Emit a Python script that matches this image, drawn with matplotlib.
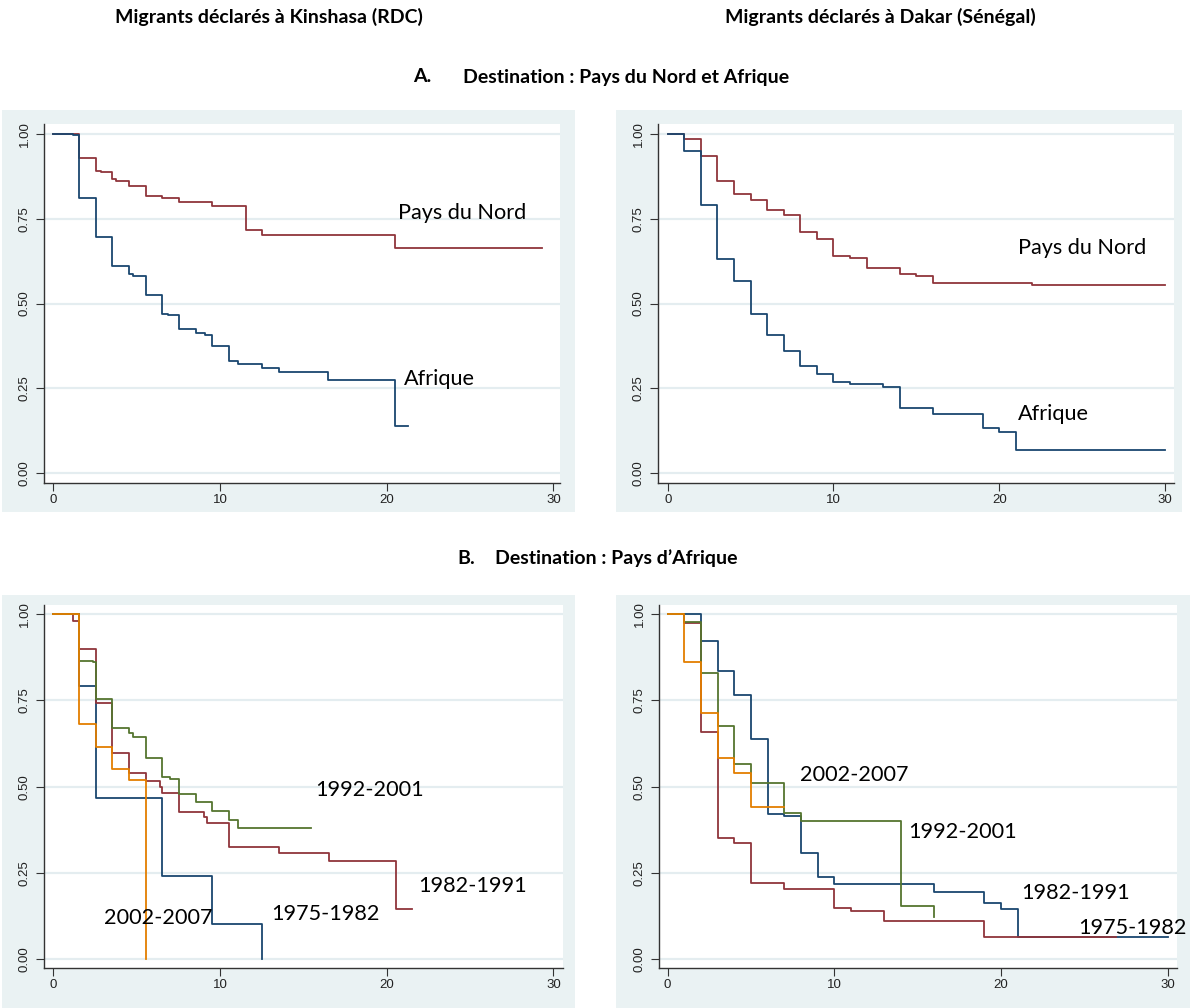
import matplotlib
matplotlib.use("Agg")
import matplotlib.pyplot as plt

W, H = 1190, 1008

# ---- data: Kaplan-Meier survival ----
# A. Kinshasa
kin_nord_t = [0, 1.53, 2.53, 2.84, 3.53, 3.74, 4.53, 5.53, 6.53, 7.53, 9.53, 11.53, 12.53, 20.5, 29.3]
kin_nord_s = [1.0, 0.928, 0.892, 0.889, 0.867, 0.860, 0.847, 0.818, 0.812, 0.800, 0.788, 0.717, 0.702, 0.665, 0.665]
kin_afr_t = [0, 1.2, 1.53, 2.53, 3.53, 4.53, 4.8, 5.53, 6.53, 6.87, 7.53, 8.53, 9.1, 9.53, 10.53, 11.1, 12.53, 13.53, 16.5, 20.5, 21.3]
kin_afr_s = [1.0, 0.997, 0.812, 0.697, 0.611, 0.586, 0.580, 0.524, 0.470, 0.465, 0.424, 0.413, 0.408, 0.376, 0.331, 0.323, 0.309, 0.297, 0.274, 0.140, 0.140]

# A. Dakar
dak_nord_t = [0, 1, 2, 3, 4, 5, 6, 7, 8, 9, 10, 11, 12, 14, 15, 16, 22, 30]
dak_nord_s = [1.0, 0.984, 0.936, 0.861, 0.822, 0.804, 0.776, 0.761, 0.712, 0.690, 0.641, 0.634, 0.606, 0.586, 0.582, 0.561, 0.555, 0.555]
dak_afr_t = [0, 1, 2, 3, 4, 5, 6, 7, 8, 9, 10, 11, 13, 14, 16, 19, 20, 21, 30]
dak_afr_s = [1.0, 0.95, 0.791, 0.631, 0.565, 0.47, 0.406, 0.361, 0.317, 0.293, 0.267, 0.264, 0.253, 0.191, 0.173, 0.134, 0.120, 0.068, 0.068]

# B. Kinshasa, by period
kin_7582_t = [0, 1.54, 2.54, 6.54, 9.54, 12.54]
kin_7582_s = [1.0, 0.792, 0.468, 0.242, 0.103, 0.0]
kin_8291_t = [0, 1.16, 1.54, 2.54, 3.54, 4.54, 5.54, 6.4, 6.54, 7.54, 9.04, 9.24, 10.54, 13.54, 16.54, 20.54, 21.5]
kin_8291_s = [1.0, 0.981, 0.899, 0.742, 0.599, 0.539, 0.517, 0.50, 0.483, 0.427, 0.413, 0.394, 0.326, 0.307, 0.285, 0.144, 0.144]
kin_9201_t = [0, 1.54, 2.4, 2.54, 3.54, 4.54, 4.8, 5.54, 6.54, 7.0, 7.54, 8.54, 9.54, 10.54, 11.1, 15.44]
kin_9201_s = [1.0, 0.866, 0.861, 0.755, 0.669, 0.655, 0.645, 0.582, 0.527, 0.521, 0.479, 0.455, 0.428, 0.403, 0.379, 0.379]
kin_0207_t = [0, 1.54, 2.54, 3.54, 4.54, 5.54]
kin_0207_s = [1.0, 0.681, 0.615, 0.551, 0.519, 0.0]

# B. Dakar, by period
dak_blue_t = [0, 2, 3, 4, 5, 6, 7, 8, 9, 10, 16, 19, 20, 21, 30]
dak_blue_s = [1.0, 0.923, 0.836, 0.766, 0.637, 0.42, 0.416, 0.307, 0.239, 0.218, 0.195, 0.163, 0.146, 0.063, 0.063]
dak_red_t = [0, 1, 2, 3, 4, 5, 7, 10, 11, 13, 19, 26.9]
dak_red_s = [1.0, 0.974, 0.66, 0.35, 0.338, 0.22, 0.203, 0.147, 0.139, 0.111, 0.065, 0.065]
dak_green_t = [0, 1, 2, 3, 4, 5, 7, 8, 14, 16]
dak_green_s = [1.0, 0.977, 0.829, 0.677, 0.566, 0.512, 0.423, 0.401, 0.154, 0.121]
dak_orange_t = [0, 1, 2, 3, 4, 5, 7]
dak_orange_s = [1.0, 0.863, 0.713, 0.582, 0.541, 0.442, 0.442]

xticks = [0, 10, 20, 30]
yticks = [0.0, 0.25, 0.5, 0.75, 1.0]
ytick_labels = ["0.00", "0.25", "0.50", "0.75", "1.00"]

NAVY, MAROON, GREEN, ORANGE = "#1A476F", "#90353B", "#55752F", "#E37E00"
BG = "#EAF2F3"
LABEL_FONT = ["Lato", "DejaVu Sans"]


def box(x0, y0, x1, y1):
    return [x0 / W, 1 - y1 / H, (x1 - x0) / W, (y1 - y0) / H]


fig = plt.figure(figsize=(W / 100, H / 100), dpi=100)


def panel(bg, area, xlim, ylim):
    b = fig.add_axes(box(*bg))
    b.set_facecolor(BG)
    b.set_xticks([]); b.set_yticks([])
    for s in b.spines.values():
        s.set_visible(False)
    ax = fig.add_axes(box(*area))
    ax.set_xlim(*xlim); ax.set_ylim(*ylim)
    ax.set_xticks(xticks)
    ax.set_yticks(yticks)
    ax.set_yticklabels(ytick_labels, rotation=90, va="center")
    for y in yticks:
        ax.axhline(y, color="#E4EDF0", lw=1.6, zorder=0)
    ax.spines["top"].set_visible(False)
    ax.spines["right"].set_visible(False)
    for s in ["left", "bottom"]:
        ax.spines[s].set_color("#333333")
        ax.spines[s].set_linewidth(1.0)
    ax.tick_params(length=6, width=0.8, color="#333333", labelsize=9.5,
                   labelcolor="#222222")
    ax.tick_params(axis="x", pad=2)
    ax.tick_params(axis="y", pad=3.5)
    for lab in ax.get_xticklabels() + ax.get_yticklabels():
        lab.set_family("Liberation Sans")
    return ax


def km(ax, t, s, c):
    ax.plot(t, s, drawstyle="steps-post", color=c, lw=1.3)


def lab(ax, x, y, txt):
    ax.text(x, y, txt, fontsize=15.6, family=LABEL_FONT, va="center", ha="left", color="black")


# top-left
ax = panel((2, 110, 575, 512), (44, 124, 560, 483), (-0.56, 30.4), (-0.0295, 1.0295))
km(ax, kin_nord_t, kin_nord_s, MAROON)
km(ax, kin_afr_t, kin_afr_s, NAVY)
lab(ax, 20.7, 0.767, "Pays du Nord")
lab(ax, 21.05, 0.277, "Afrique")

# top-right
ax = panel((616, 110, 1182, 512), (658, 124, 1174, 483), (-0.585, 30.54), (-0.0295, 1.0295))
km(ax, dak_nord_t, dak_nord_s, MAROON)
km(ax, dak_afr_t, dak_afr_s, NAVY)
lab(ax, 21.1, 0.664, "Pays du Nord")
lab(ax, 21.1, 0.174, "Afrique")

# bottom-left
ax = panel((2, 595, 575, 1008), (44, 605, 563, 968), (-0.56, 30.58), (-0.026, 1.027))
km(ax, kin_7582_t, kin_7582_s, NAVY)
km(ax, kin_8291_t, kin_8291_s, MAROON)
km(ax, kin_9201_t, kin_9201_s, GREEN)
km(ax, kin_0207_t, kin_0207_s, ORANGE)
lab(ax, 15.7, 0.49, "1992-2001")
lab(ax, 21.9, 0.212, "1982-1991")
lab(ax, 3.04, 0.119, "2002-2007")
lab(ax, 13.1, 0.131, "1975-1982")

# bottom-right
ax = panel((616, 595, 1190, 1008), (659, 605, 1177, 968), (-0.52, 30.56), (-0.026, 1.027))
km(ax, dak_blue_t, dak_blue_s, NAVY)
km(ax, dak_red_t, dak_red_s, MAROON)
km(ax, dak_green_t, dak_green_s, GREEN)
km(ax, dak_orange_t, dak_orange_s, ORANGE)
lab(ax, 7.94, 0.534, "2002-2007")
lab(ax, 14.42, 0.368, "1992-2001")
lab(ax, 21.2, 0.191, "1982-1991")
lab(ax, 24.63, 0.09, "1975-1982")

# headings
def head(x, y, txt):
    fig.text(x / W, 1 - y / H, txt, fontsize=14, fontweight="bold", family=LABEL_FONT,
             ha="left", va="center")

head(115, 17, "Migrants déclarés à Kinshasa (RDC)")
head(725, 17, "Migrants déclarés à Dakar (Sénégal)")
head(413, 77, "A.")
head(463, 77, "Destination : Pays du Nord et Afrique")
head(457, 558, "B.")
head(495, 558, "Destination : Pays d’Afrique")

fig.savefig("out.png", dpi=100)
